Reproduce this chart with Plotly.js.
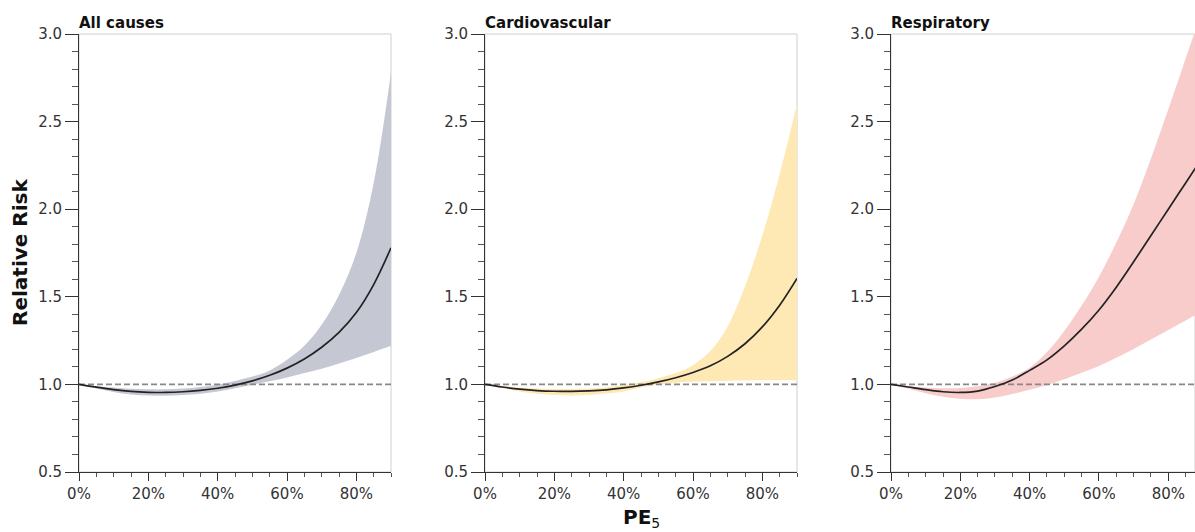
<!DOCTYPE html>
<html>
<head>
<meta charset="utf-8">
<script src="https://cdn.plot.ly/plotly-3.0.1.min.js"></script>
<style>html,body{margin:0;padding:0;background:#fff;}#chart{width:1195px;height:532px;}</style>
</head>
<body>
<div id="chart"></div>
<script>
// Exposure grid (share of PE5)
const xGrid = [0, 0.05, 0.10, 0.15, 0.20, 0.25, 0.30, 0.35, 0.40, 0.45, 0.50, 0.55, 0.60, 0.65, 0.70, 0.75, 0.80, 0.85, 0.90];

// All causes
const allMean  = [1.000, 0.984, 0.970, 0.960, 0.955, 0.954, 0.958, 0.966, 0.978, 0.996, 1.020, 1.052, 1.093, 1.145, 1.212, 1.297, 1.410, 1.570, 1.780];
const allUpper = [1.000, 0.990, 0.982, 0.975, 0.972, 0.972, 0.976, 0.985, 0.998, 1.020, 1.045, 1.080, 1.140, 1.220, 1.340, 1.510, 1.750, 2.150, 2.780];
const allLower = [1.000, 0.977, 0.957, 0.943, 0.937, 0.935, 0.939, 0.947, 0.959, 0.978, 0.998, 1.018, 1.040, 1.065, 1.090, 1.120, 1.150, 1.185, 1.220];

// Cardiovascular
const cvMean  = [1.000, 0.985, 0.973, 0.965, 0.961, 0.960, 0.963, 0.969, 0.980, 0.995, 1.014, 1.038, 1.068, 1.106, 1.160, 1.232, 1.328, 1.452, 1.605];
const cvUpper = [1.000, 0.990, 0.982, 0.976, 0.974, 0.974, 0.977, 0.984, 0.996, 1.012, 1.035, 1.065, 1.110, 1.190, 1.330, 1.560, 1.850, 2.200, 2.600];
const cvLower = [1.000, 0.978, 0.960, 0.946, 0.939, 0.937, 0.940, 0.948, 0.960, 0.982, 1.000, 1.010, 1.015, 1.018, 1.021, 1.022, 1.023, 1.023, 1.023];

// Respiratory
const resMean  = [1.000, 0.985, 0.970, 0.958, 0.954, 0.962, 0.988, 1.025, 1.080, 1.140, 1.220, 1.315, 1.425, 1.555, 1.700, 1.850, 2.000, 2.150, 2.300];
const resUpper = [1.000, 0.990, 0.982, 0.978, 0.980, 0.990, 1.010, 1.045, 1.095, 1.185, 1.305, 1.450, 1.615, 1.810, 2.030, 2.290, 2.570, 2.860, 3.150];
const resLower = [1.000, 0.975, 0.950, 0.930, 0.918, 0.915, 0.925, 0.945, 0.970, 0.997, 1.030, 1.066, 1.105, 1.152, 1.202, 1.256, 1.310, 1.365, 1.420];

const panelTitles = ["All causes", "Cardiovascular", "Respiratory"];
const fillColors = ["#c5c7d3", "#fee9b5", "#f9cccc"];
const xTickVals = [0, 0.2, 0.4, 0.6, 0.8];
const xTickText = ["0%", "20%", "40%", "60%", "80%"];
const yTickVals = [0.5, 1.0, 1.5, 2.0, 2.5, 3.0];
const yTickText = ["0.5", "1.0", "1.5", "2.0", "2.5", "3.0"];

const series = [
  {mean: allMean, upper: allUpper, lower: allLower},
  {mean: cvMean, upper: cvUpper, lower: cvLower},
  {mean: resMean, upper: resUpper, lower: resLower}
];

const W = 1195;
const domains = [[79 / W, 391 / W], [485 / W, 797 / W], [891 / W, 1.0]];
const xRanges = [[0, 0.9], [0, 0.9], [0, 0.877]];

const FONT = "DejaVu Sans, Verdana, sans-serif";
const data = [];
const layout = {
  width: 1195, height: 532,
  margin: {l: 0, r: 0, t: 34, b: 60},
  paper_bgcolor: "#fff", plot_bgcolor: "#fff",
  showlegend: false,
  font: {family: FONT, size: 15, color: "#333"},
  shapes: [], annotations: []
};

series.forEach((s, i) => {
  const n = i === 0 ? "" : String(i + 1);
  const xa = "x" + n, ya = "y" + n;
  data.push({x: xGrid, y: s.lower, xaxis: xa, yaxis: ya, mode: "lines", line: {width: 0, color: fillColors[i], shape: "spline", smoothing: 1}, hoverinfo: "skip"});
  data.push({x: xGrid, y: s.upper, xaxis: xa, yaxis: ya, mode: "lines", line: {width: 0, color: fillColors[i], shape: "spline", smoothing: 1}, fill: "tonexty", fillcolor: fillColors[i], hoverinfo: "skip"});
  data.push({x: [0, 1], y: [1, 1], xaxis: xa, yaxis: ya, mode: "lines", line: {width: 1.7, color: "#888888", dash: "6px,3px"}, hoverinfo: "skip"});
  data.push({x: xGrid, y: s.mean, xaxis: xa, yaxis: ya, mode: "lines", line: {width: 1.7, color: "#222", shape: "spline", smoothing: 1}});

  layout["xaxis" + n] = {
    domain: domains[i], range: xRanges[i], anchor: ya,
    tickmode: "array", tickvals: xTickVals, ticktext: xTickText,
    ticks: "outside", ticklen: 8, tickwidth: 1, tickcolor: "#333",
    minor: {dtick: 0.05, tick0: 0, ticks: "outside", ticklen: 4, tickwidth: 1, tickcolor: "#555", showgrid: false},
    showline: true, linecolor: "#333", linewidth: 1,
    showgrid: false, zeroline: false, fixedrange: true,
    tickfont: {family: FONT, size: 15, color: "#333"}
  };
  layout["yaxis" + n] = {
    domain: [0, 1], range: [0.5, 3.0], anchor: xa,
    tickmode: "array", tickvals: yTickVals, ticktext: yTickText,
    ticks: "outside", ticklen: 13, tickwidth: 1, tickcolor: "#333",
    minor: {dtick: 0.1, tick0: 0.5, ticks: "outside", ticklen: 6, tickwidth: 1, tickcolor: "#555", showgrid: false},
    showline: true, linecolor: "#333", linewidth: 1,
    showgrid: false, zeroline: false, fixedrange: true,
    tickfont: {family: FONT, size: 15, color: "#333"}
  };
  // light top/right frame
  layout.shapes.push({type: "rect", xref: xa + " domain", yref: ya + " domain", x0: 0, x1: 1, y0: 0, y1: 1, line: {color: "#cfcfcf", width: 1}, layer: "below"});
  layout.annotations.push({
    text: "<b>" + panelTitles[i] + "</b>", xref: xa + " domain", yref: ya + " domain",
    x: 0, y: 1, xanchor: "left", yanchor: "bottom", yshift: 0, xshift: -2, showarrow: false,
    font: {family: FONT, size: 15, color: "#111"}
  });
});

layout.annotations.push({
  text: "<b>Relative Risk</b>", xref: "paper", yref: "paper", x: 20 / W, y: 0.5,
  xanchor: "center", yanchor: "middle", textangle: -90, showarrow: false,
  font: {family: FONT, size: 20, color: "#111"}
});
layout.annotations.push({
  text: "<b>PE</b><sub>5</sub>", xref: "paper", yref: "paper", x: 641 / W, y: 0,
  xanchor: "center", yanchor: "top", yshift: -31, showarrow: false,
  font: {family: FONT, size: 20, color: "#111"}
});

Plotly.newPlot("chart", data, layout, {displayModeBar: false, staticPlot: true});
</script>
</body>
</html>
